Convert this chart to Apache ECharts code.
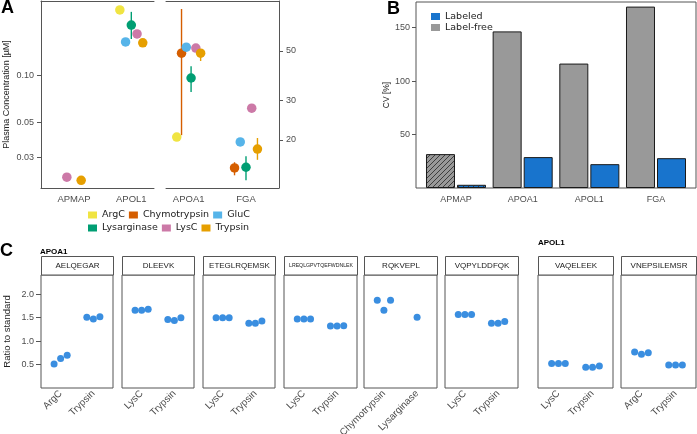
<!DOCTYPE html>
<html>
<head>
<meta charset="utf-8">
<script src="https://cdn.jsdelivr.net/npm/echarts@6/dist/echarts.min.js"></script>
<style>
  html, body { margin: 0; padding: 0; background: #fff; }
  #chart { width: 697px; height: 434px; }
</style>
</head>
<body>
<div id="chart"></div>
<script>
// ---- panel A: plasma concentration per protein and enzyme ----
const proteinsA = ['APMAP', 'APOL1', 'APOA1', 'FGA']
const enzymes = ['ArgC', 'Chymotrypsin', 'GluC', 'Lysarginase', 'LysC', 'Trypsin']
const enzymeColors = ['#F0E442', '#D55E00', '#56B4E9', '#009E73', '#CC79A7', '#E69F00']
const concArgC = [null, 0.258, 20.6, null]
const concChymo = [null, null, 48.8, 15.0]
const concGluC = [null, 0.162, 51.9, 19.6]
const concLysarg = [null, 0.207, 37.8, 15.1]
const concLysC = [0.0226, 0.182, 51.4, 27.7]
const concTrypsin = [0.0216, 0.160, 48.8, 18.2]
// error bars [low, high]
const errChymo = [null, null, [21.0, 76.8], [13.9, 15.9]]
const errLysarg = [null, [0.169, 0.251], [32.7, 42.7], [13.2, 16.9]]
const errTrypsin = [null, null, [45.0, 50.9], [16.3, 20.4]]
const ticksLow = [0.03, 0.05, 0.10]
const ticksHigh = [20, 30, 50]
const rangeLow = [0.0193, 0.294]
const rangeHigh = [12.2, 83.4]

// ---- panel B: CV ----
const proteinsB = ['APMAP', 'APOA1', 'APOL1', 'FGA']
const cvLabelFree = [31.7, 146.5, 116.4, 169.7]
const cvLabeled = [3, 28.9, 22.3, 27.9]
const cvTicks = [50, 100, 150]

// ---- panel C: ratio to standard per peptide ----
const peptides = ['AELQEGAR', 'DLEEVK', 'ETEGLRQEMSK', 'LREQLGPVTQEFWDNLEK', 'RQKVEPL', 'VQPYLDDFQK', 'VAQELEEK', 'VNEPSILEMSR']
const pepEnzymes = [['ArgC', 'Trypsin'], ['LysC', 'Trypsin'], ['LysC', 'Trypsin'], ['LysC', 'Trypsin'],
  ['Chymotrypsin', 'Lysarginase'], ['LysC', 'Trypsin'], ['LysC', 'Trypsin'], ['ArgC', 'Trypsin']]
const ratioFirst = [[0.51, 0.63, 0.70], [1.66, 1.66, 1.68], [1.50, 1.50, 1.50], [1.47, 1.47, 1.47],
  [1.87, 1.66, 1.87], [1.57, 1.57, 1.57], [0.52, 0.52, 0.52], [0.77, 0.72, 0.75]]
const ratioSecond = [[1.51, 1.47, 1.52], [1.46, 1.44, 1.50], [1.38, 1.38, 1.43], [1.32, 1.32, 1.33],
  [1.51], [1.38, 1.38, 1.42], [0.44, 0.44, 0.47], [0.49, 0.49, 0.49]]
const ratioTicks = [0.5, 1.0, 1.5, 2.0]

// layout
const facetLefts = [41, 122, 203, 284, 364, 445, 538, 621]
const facetWidths = [72, 72, 72, 73, 73, 73, 75, 75]
const LINE = '#555'
const TXT = '#4d4d4d'
const ARIAL = 'Liberation Sans, Arial, sans-serif'
const DEJAVU = 'DejaVu Sans, sans-serif'

const concByEnzyme = [concArgC, concChymo, concGluC, concLysarg, concLysC, concTrypsin]
const errByEnzyme = [null, errChymo, null, errLysarg, null, errTrypsin]

function dodgeX(p, e) {
  let present = []
  concByEnzyme.forEach((c, i) => { if (c[p] != null) present.push(i) })
  let n = present.length
  let i = present.indexOf(e)
  return p + 1 + (i - (n - 1) / 2) * 0.5 / n
}

let chart = echarts.init(document.getElementById('chart'))

// hatch pattern for APMAP bars
function hatch(bg) {
  let c = document.createElement('canvas')
  c.width = 5; c.height = 5
  let g = c.getContext('2d')
  g.fillStyle = bg; g.fillRect(0, 0, 5, 5)
  g.strokeStyle = '#333'; g.lineWidth = 0.9
  g.beginPath()
  g.moveTo(-1, 6); g.lineTo(6, -1)
  g.moveTo(-1, 1); g.lineTo(1, -1)
  g.moveTo(4, 6); g.lineTo(6, 4)
  g.stroke()
  return { image: c, repeat: 'repeat' }
}

let grids = [
  { left: 41, top: 1, width: 113, height: 187 },
  { left: 166, top: 1, width: 113, height: 187 },
  { left: 416, top: 2, width: 280, height: 186, show: true, borderColor: LINE, borderWidth: 1 }
]
facetLefts.forEach((l, k) => {
  grids.push({ left: l, top: 275, width: facetWidths[k], height: 113, show: true, borderColor: LINE, borderWidth: 1 })
})
grids.forEach(g => { g.containLabel = false; g.outerBoundsMode = 'none' })

let labelStyle = { color: TXT, fontSize: 9, fontFamily: ARIAL }
let frameLine = { show: true, onZero: false, lineStyle: { color: LINE } }

let xAxes = [
  { gridIndex: 0, type: 'value', min: 0.424, max: 2.396, splitLine: { show: false },
    axisLine: frameLine, axisTick: { show: false },
    axisLabel: Object.assign({ customValues: [1, 2], margin: 6, fontSize: 9.5, formatter: v => proteinsA[v - 1] }, { color: TXT, fontFamily: ARIAL }) },
  { gridIndex: 1, type: 'value', min: 2.604, max: 4.576, splitLine: { show: false },
    axisLine: frameLine, axisTick: { show: false },
    axisLabel: Object.assign({ customValues: [3, 4], margin: 6, fontSize: 9.5, formatter: v => proteinsA[v - 1] }, { color: TXT, fontFamily: ARIAL }) },
  { gridIndex: 0, type: 'value', position: 'top', min: 0, max: 1, splitLine: { show: false },
    axisLine: frameLine, axisTick: { show: false }, axisLabel: { show: false } },
  { gridIndex: 1, type: 'value', position: 'top', min: 0, max: 1, splitLine: { show: false },
    axisLine: frameLine, axisTick: { show: false }, axisLabel: { show: false } },
  { gridIndex: 2, type: 'value', min: 0.4, max: 4.6, splitLine: { show: false },
    axisLine: { show: false }, axisTick: { show: false },
    axisLabel: Object.assign({ customValues: [1, 2, 3, 4], margin: 7, formatter: v => proteinsB[v - 1] }, labelStyle) }
]
let yAxes = [
  { gridIndex: 0, type: 'value', min: Math.log10(rangeLow[0]), max: Math.log10(rangeLow[1]), splitLine: { show: false },
    axisLine: frameLine,
    axisTick: { show: true, length: 4, customValues: ticksLow.map(Math.log10), lineStyle: { color: LINE } },
    axisLabel: Object.assign({ customValues: ticksLow.map(Math.log10), margin: 7, formatter: v => Math.pow(10, v).toFixed(2) }, labelStyle),
    name: 'Plasma Concentration [\u00b5M]', nameLocation: 'middle', nameGap: 30,
    nameTextStyle: { color: '#222', fontSize: 9, fontFamily: ARIAL } },
  { gridIndex: 1, type: 'value', position: 'right', min: Math.log10(rangeHigh[0]), max: Math.log10(rangeHigh[1]), splitLine: { show: false },
    axisLine: frameLine,
    axisTick: { show: true, length: 4, customValues: ticksHigh.map(Math.log10), lineStyle: { color: LINE } },
    axisLabel: Object.assign({ customValues: ticksHigh.map(Math.log10), margin: 7, formatter: v => String(Math.round(Math.pow(10, v))) }, labelStyle) },
  { gridIndex: 2, type: 'value', min: 0, max: 174, splitLine: { show: false },
    axisLine: { show: false },
    axisTick: { show: true, length: 4, customValues: cvTicks, lineStyle: { color: LINE } },
    axisLabel: Object.assign({ customValues: cvTicks, margin: 6 }, labelStyle),
    name: 'CV [%]', nameLocation: 'middle', nameGap: 24,
    nameTextStyle: { color: '#222', fontSize: 8.5, fontFamily: ARIAL } }
]

let series = []

// panel A points and error bars
;[[0, 1], [2, 3]].forEach((prots, g) => {
  let errData = []
  enzymes.forEach((name, e) => {
    let data = []
    prots.forEach(p => {
      let v = concByEnzyme[e][p]
      if (v == null) return
      let x = dodgeX(p, e)
      data.push([x, Math.log10(v)])
      let err = errByEnzyme[e] && errByEnzyme[e][p]
      if (err) errData.push([x, Math.log10(err[0]), Math.log10(err[1]), e])
    })
    series.push({ type: 'scatter', name: name, xAxisIndex: g, yAxisIndex: g, data: data,
      symbolSize: 9.5, clip: false, z: 4, itemStyle: { color: enzymeColors[e], opacity: 1 } })
  })
  series.push({ type: 'custom', xAxisIndex: g, yAxisIndex: g, data: errData, z: 3, clip: false,
    encode: { x: 0, y: [1, 2] },
    renderItem: (params, api) => {
      let a = api.coord([api.value(0), api.value(1)])
      let b = api.coord([api.value(0), api.value(2)])
      return { type: 'line', shape: { x1: a[0], y1: a[1], x2: b[0], y2: b[1] },
        style: { stroke: enzymeColors[api.value(3)], lineWidth: 1.4 } }
    } })
})

// panel B bars
series.push({ type: 'bar', name: 'Label-free', xAxisIndex: 4, yAxisIndex: 2, barWidth: 29, barGap: '7%',
  data: cvLabelFree.map((v, i) => ({ value: [i + 1, v], itemStyle: i === 0 ? { color: hatch('#999999') } : {} })),
  itemStyle: { color: '#999999', borderColor: '#1a1a1a', borderWidth: 1 } })
series.push({ type: 'bar', name: 'Labeled', xAxisIndex: 4, yAxisIndex: 2, barWidth: 29, barGap: '7%',
  data: cvLabeled.map((v, i) => ({ value: [i + 1, v], itemStyle: i === 0 ? { color: hatch('#1874CD') } : {} })),
  itemStyle: { color: '#1874CD', borderColor: '#1a1a1a', borderWidth: 1 } })

// panel C facets
peptides.forEach((pep, k) => {
  xAxes.push({ gridIndex: 3 + k, type: 'value', min: 0.4, max: 2.6, splitLine: { show: false },
    axisLine: { show: false, onZero: false }, axisTick: { show: false },
    axisLabel: { customValues: [1, 2], rotate: 45, margin: 4, color: TXT, fontSize: 9.8, fontFamily: ARIAL,
      formatter: v => pepEnzymes[k][v - 1] } })
  yAxes.push({ gridIndex: 3 + k, type: 'value', min: 0, max: 2.41, splitLine: { show: false },
    axisLine: { show: false, onZero: false },
    axisTick: { show: k === 0, length: 5, customValues: ratioTicks, lineStyle: { color: LINE } },
    axisLabel: Object.assign({ show: k === 0, customValues: ratioTicks, margin: 7, formatter: v => v.toFixed(1) }, labelStyle),
    name: k === 0 ? 'Ratio to standard' : '', nameLocation: 'middle', nameGap: 29,
    nameTextStyle: { color: '#222', fontSize: 9.5, fontFamily: ARIAL } })
  let data = []
  ;[ratioFirst[k], ratioSecond[k]].forEach((reps, c) => {
    reps.forEach((v, r) => data.push([c + 1 + (r - (reps.length - 1) / 2) * 0.2, v]))
  })
  series.push({ type: 'scatter', xAxisIndex: 5 + k, yAxisIndex: 3 + k, data: data, symbolSize: 7,
    itemStyle: { color: '#3a8ee0', opacity: 1 } })
})

// strips, panel letters and facet headings
let graphics = [
  { type: 'text', x: 1, y: -1, style: { text: 'A', font: 'bold 18px ' + ARIAL, fill: '#000' } },
  { type: 'text', x: 387, y: 0, style: { text: 'B', font: 'bold 18px ' + ARIAL, fill: '#000' } },
  { type: 'text', x: 0, y: 242, style: { text: 'C', font: 'bold 18px ' + ARIAL, fill: '#000' } },
  { type: 'text', x: 40, y: 248, style: { text: 'APOA1', font: 'bold 8px ' + ARIAL, fill: '#000' } },
  { type: 'text', x: 538, y: 239, style: { text: 'APOL1', font: 'bold 8px ' + ARIAL, fill: '#000' } }
]
peptides.forEach((pep, k) => {
  let l = facetLefts[k], w = facetWidths[k]
  graphics.push({ type: 'rect', shape: { x: l + 0.5, y: 256.5, width: w, height: 18.5 },
    style: { fill: '#fff', stroke: LINE, lineWidth: 1 } })
  graphics.push({ type: 'text', x: l + w / 2 + 0.5, y: 266,
    style: { text: pep, font: (pep.length > 14 ? '5.2px ' : '8px ') + ARIAL, fill: '#1a1a1a',
      textAlign: 'center', textVerticalAlign: 'middle' } })
})

chart.setOption({
  animation: false,
  textStyle: { fontFamily: ARIAL },
  grid: grids,
  xAxis: xAxes,
  yAxis: yAxes,
  legend: [
    { data: ['ArgC', 'Chymotrypsin', 'GluC'], left: 83, top: 205, itemWidth: 9, itemHeight: 7, itemGap: 4,
      icon: 'rect', selectedMode: false, textStyle: { fontSize: 9.5, fontFamily: DEJAVU, color: '#222' } },
    { data: ['Lysarginase', 'LysC', 'Trypsin'], left: 83, top: 218, itemWidth: 9, itemHeight: 7, itemGap: 4,
      icon: 'rect', selectedMode: false, textStyle: { fontSize: 9.5, fontFamily: DEJAVU, color: '#222' } },
    { data: ['Labeled', 'Label-free'], left: 426, top: 6, orient: 'vertical', itemWidth: 9, itemHeight: 7, itemGap: 0,
      icon: 'rect', selectedMode: false,
      itemStyle: { borderWidth: 0 },
      textStyle: { fontSize: 9.5, fontFamily: DEJAVU, color: '#222', lineHeight: 11 } }
  ],
  graphic: graphics,
  series: series
})
</script>
</body>
</html>
